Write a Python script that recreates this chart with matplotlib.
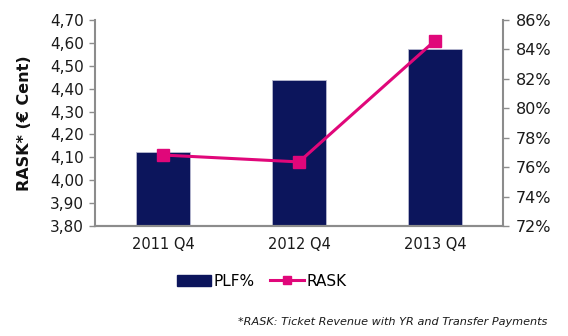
import matplotlib
matplotlib.use("Agg")
import matplotlib.pyplot as plt
from matplotlib.ticker import FuncFormatter, MultipleLocator
from matplotlib.lines import Line2D
from matplotlib.patches import Patch

quarters = ["2011 Q4", "2012 Q4", "2013 Q4"]
plf_pct = [77.0, 81.9, 84.0]
rask = [4.11, 4.08, 4.61]

navy = "#0C155C"
magenta = "#E0077A"
grey = "#8C8C8C"
text_col = "#1A1A1A"

plt.rcParams["font.family"] = ["DejaVu Sans"]

fig = plt.figure(figsize=(5.68, 3.36), dpi=100)
ax = fig.add_axes([0.1673, 0.3274, 0.7183, 0.6131])
ax_r = ax.twinx()

x = list(range(len(quarters)))
ax_r.bar(x, plf_pct, width=0.4, color=navy, edgecolor="#B8BAD0", linewidth=0.6, zorder=2)
ax.plot(x, rask, color=magenta, linewidth=2.2, marker="s", markersize=8, zorder=3)

# keep the RASK line above the PLF bars
ax.set_zorder(ax_r.get_zorder() + 1)
ax.patch.set_visible(False)

ax.set_xlim(-0.5, 2.5)
ax.set_ylim(3.80, 4.70)
ax.yaxis.set_major_locator(MultipleLocator(0.10))
ax.yaxis.set_major_formatter(FuncFormatter(lambda v, p: f"{v:.2f}".replace(".", ",")))
ax_r.set_ylim(72, 86)
ax_r.yaxis.set_major_locator(MultipleLocator(2))
ax_r.yaxis.set_major_formatter(FuncFormatter(lambda v, p: f"{v:.0f}%"))

ax.set_xticks(x)
ax.set_xticklabels(quarters)

for a in (ax, ax_r):
    a.spines["top"].set_visible(False)
    for s in ("left", "right", "bottom"):
        a.spines[s].set_color(grey)
        a.spines[s].set_linewidth(1.5)
    a.tick_params(axis="x", length=0, labelsize=10.5, labelcolor=text_col, pad=8)
ax.tick_params(axis="y", colors=grey, labelcolor=text_col, labelsize=11, length=4, width=1, pad=4)
ax_r.tick_params(axis="y", colors=grey, labelcolor=text_col, labelsize=11.5, length=4, width=1, pad=5)
ax.spines["right"].set_visible(False)
ax_r.spines["left"].set_visible(False)

ax.set_ylabel("RASK* (€ Cent)", fontsize=11.5, fontweight="bold", color="#111111", labelpad=13)

handles = [
    Patch(facecolor=navy, edgecolor=navy),
    Line2D([], [], color=magenta, linewidth=2.2, marker="s", markersize=6),
]
fig.legend(handles, ["PLF%", "RASK"], loc="center", bbox_to_anchor=(262 / 568, 1 - 281 / 336),
           ncol=2, frameon=False, fontsize=11, handlelength=2.2, handletextpad=0.2,
           columnspacing=1.0)

fig.text(547 / 568, 1 - 322 / 336, "*RASK: Ticket Revenue with YR and Transfer Payments",
         ha="right", va="center", fontsize=8.1, style="italic", color=text_col)

fig.savefig("out.png", dpi=100)
